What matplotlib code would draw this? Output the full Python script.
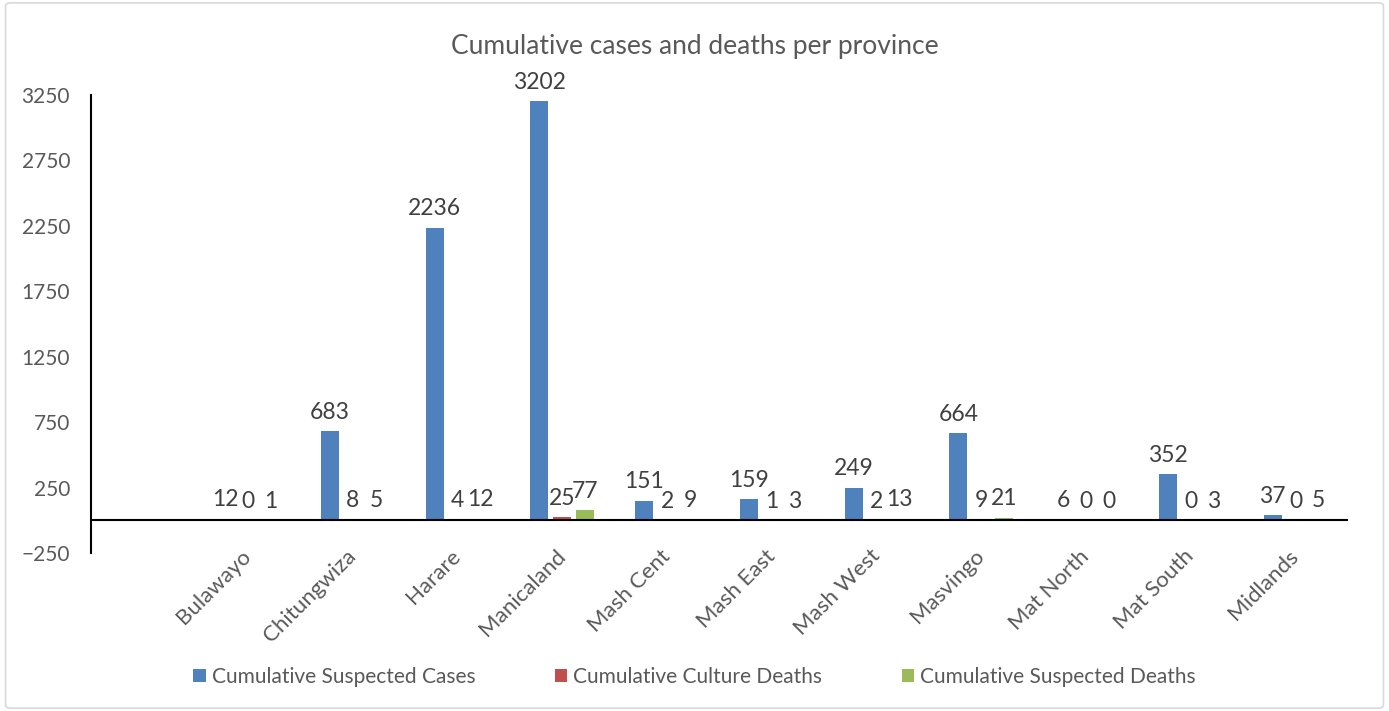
# Cumulative cases and deaths per province - grouped bar chart
import numpy as np
import matplotlib.pyplot as plt
from matplotlib.patches import FancyBboxPatch

plt.rcParams['font.family'] = ['Lato', 'DejaVu Sans']

# Data (the source sheet has one blank category before Bulawayo)
provinces = ["Bulawayo", "Chitungwiza", "Harare", "Manicaland", "Mash Cent",
             "Mash East", "Mash West", "Masvingo", "Mat North", "Mat South", "Midlands"]
suspected_cases = [12, 683, 2236, 3202, 151, 159, 249, 664, 6, 352, 37]
culture_deaths = [0, 8, 4, 25, 2, 1, 2, 9, 0, 0, 0]
suspected_deaths = [1, 5, 12, 77, 9, 3, 13, 21, 0, 3, 5]

series = [
    ("Cumulative Suspected Cases", suspected_cases, "#4F81BD"),
    ("Cumulative Culture Deaths", culture_deaths, "#C0504D"),
    ("Cumulative Suspected Deaths", suspected_deaths, "#9BBB59"),
]

fig = plt.figure(figsize=(13.89, 7.11), dpi=100)
ax = fig.add_axes([0.0655, 0.2222, 0.905, 0.6442])

# Excel-style chart border
fig.patches.append(FancyBboxPatch((0.004, 0.004), 0.992, 0.992, boxstyle="round,pad=0,rounding_size=0.004",
                                  transform=fig.transFigure, facecolor="none",
                                  edgecolor="#D9D9D9", linewidth=1.2))

x = np.arange(len(provinces)) + 1
width = 0.172
step = 0.22

for i, (name, vals, color) in enumerate(series):
    pos = x + (i - 1) * step
    bars = ax.bar(pos, vals, width=width, color=color, label=name)
    for xp, v in zip(pos, vals):
        ax.annotate(str(v), (xp, v), xytext=(0, 6), textcoords="offset points",
                    ha="center", va="bottom", fontsize=16.5, color="#404040")

ax.axhline(0, color="black", linewidth=1.5)
ax.set_xlim(-0.5, len(provinces) + 0.5)
ax.set_ylim(-250, 3250)
ax.set_yticks(np.arange(-250, 3251, 500))

ax.set_xticks(x)
ax.set_xticklabels(provinces, rotation=45, ha="right", va="center", rotation_mode="anchor")

for side in ["top", "right", "bottom"]:
    ax.spines[side].set_visible(False)
ax.spines["left"].set_linewidth(1.5)
ax.spines["left"].set_color("black")

ax.tick_params(axis="y", length=0, pad=15, labelsize=15, labelcolor="#595959")
ax.tick_params(axis="x", length=0, pad=0, labelsize=16, labelcolor="#595959")

fig.text(0.5, 0.935, "Cumulative cases and deaths per province", ha="center", va="center",
         fontsize=19, color="#595959")

fig.legend(loc="center", bbox_to_anchor=(0.5, 0.048), ncol=3, frameon=False,
           fontsize=15, handlelength=0.6, handleheight=0.6, handletextpad=0.3,
           columnspacing=3.8, labelcolor="#595959")

plt.savefig("out.png", dpi=100)
